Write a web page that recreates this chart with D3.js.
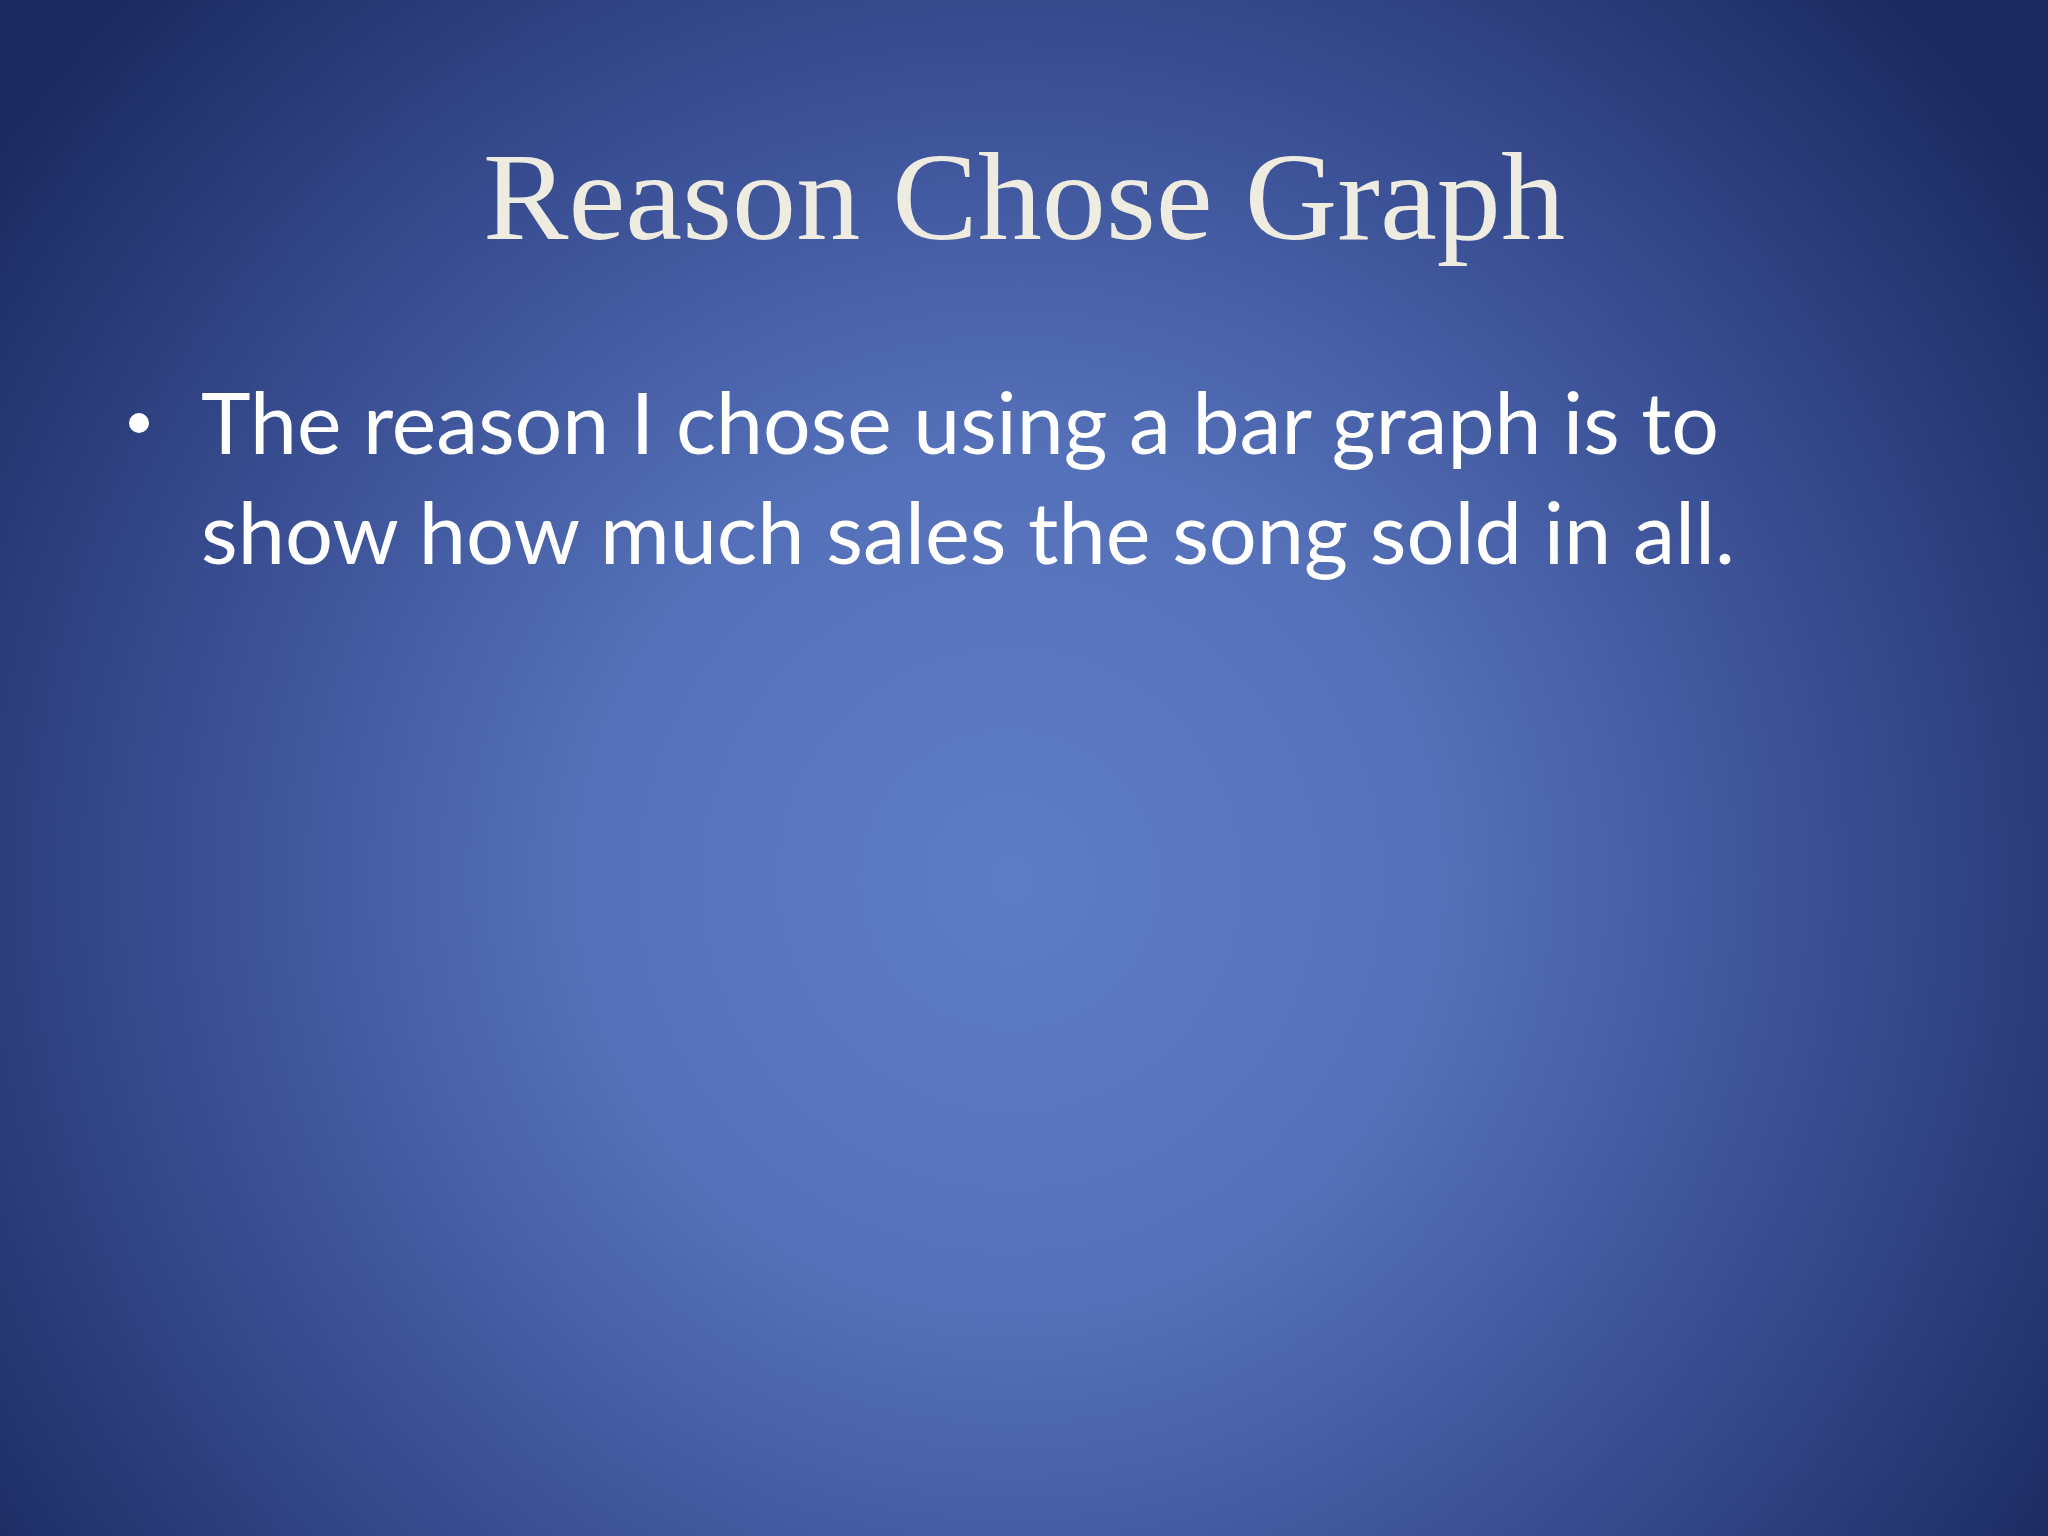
<!DOCTYPE html>
<html lang="en">
<head>
    <meta charset="utf-8">
    <title>Reason Chose Graph</title>
    <script type="text/javascript" src="https://d3js.org/d3.v7.min.js"></script>
    <style>
        html, body { margin: 0; padding: 0; overflow: hidden; background: #1c2a5c; }
    </style>
</head>
<body>
    <div id="slide"></div>
    <script type="text/javascript">
        const width = 2048;
        const height = 1536;

        // slide content
        const titleText = "Reason Chose Graph";
        const bulletLines = [
            "The reason I chose using a bar graph is to",
            "show how much sales the song sold in all."
        ];
        // target widths of each text line
        const titleWidth = 1082;
        const lineWidths = [1518, 1534];

        const svg = d3.select("#slide")
            .append("svg")
            .attr("width", width)
            .attr("height", height)
            .attr("viewBox", [0, 0, width, height]);

        // background radial gradient
        const defs = svg.append("defs");
        const grad = defs.append("radialGradient")
            .attr("id", "bg")
            .attr("gradientUnits", "userSpaceOnUse")
            .attr("cx", 1010).attr("cy", 880)
            .attr("r", 1250);
        grad.append("stop").attr("offset", "0%").attr("stop-color", "#5e7dc5");
        grad.append("stop").attr("offset", "35%").attr("stop-color", "#5470b8");
        grad.append("stop").attr("offset", "65%").attr("stop-color", "#3a4f94");
        grad.append("stop").attr("offset", "100%").attr("stop-color", "#1b2a60");

        svg.append("rect")
            .attr("width", width)
            .attr("height", height)
            .attr("fill", "url(#bg)");

        // title
        svg.append("text")
            .attr("x", width / 2)
            .attr("y", 239)
            .attr("text-anchor", "middle")
            .attr("font-family", "'Liberation Serif', 'DejaVu Serif', serif")
            .attr("font-size", 124)
            .attr("fill", "#eeece1")
            .attr("textLength", titleWidth)
            .attr("lengthAdjust", "spacingAndGlyphs")
            .text(titleText);

        // bullet
        svg.append("circle")
            .attr("cx", 139)
            .attr("cy", 423)
            .attr("r", 10)
            .attr("fill", "#ffffff");

        const y = d3.scalePoint()
            .domain(bulletLines)
            .range([454, 564]);

        svg.append("g")
            .selectAll("text")
            .data(bulletLines)
            .enter()
            .append("text")
                .attr("x", 201)
                .attr("y", d => y(d))
                .attr("font-family", "Lato, 'Open Sans', sans-serif")
                .attr("font-size", 86)
                .attr("fill", "#ffffff")
                .attr("textLength", (d, i) => lineWidths[i])
                .attr("lengthAdjust", "spacingAndGlyphs")
                .text(d => d);
    </script>
</body>
</html>
